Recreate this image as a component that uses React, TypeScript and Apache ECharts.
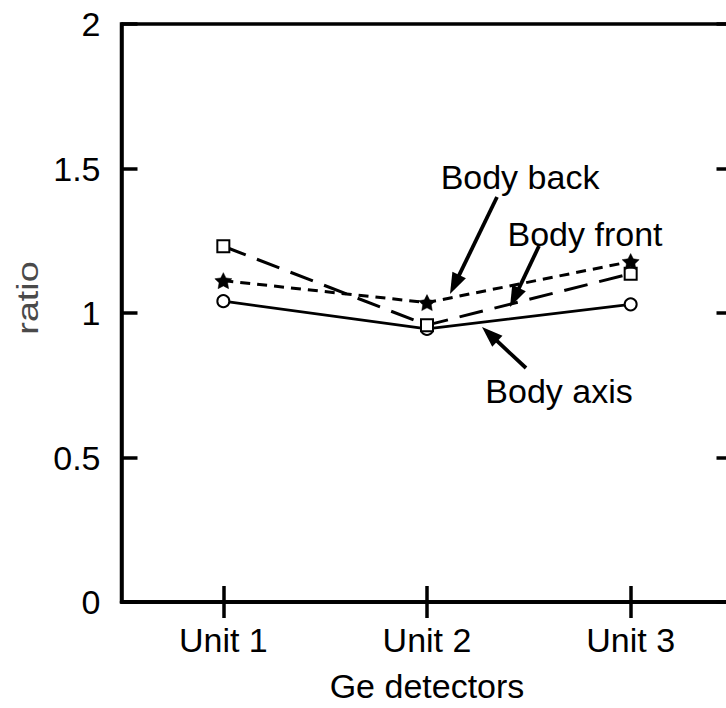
import React, { useEffect, useRef } from "react";
import * as echarts from "echarts";

const categories = ["Unit 1", "Unit 2", "Unit 3"];
const bodyAxis = [1.041, 0.945, 1.03];
const bodyFront = [1.231, 0.958, 1.136];
const bodyBack = [1.112, 1.036, 1.178];
const yTicks = { min: 0, max: 2, interval: 0.5 };

const FONT = "'Liberation Sans', Arial, Helvetica, sans-serif";
const STAR =
  "path://M0,-10 L2.94,-4.05 L9.51,-3.09 L4.76,1.55 L5.88,8.09 L0,5 L-5.88,8.09 L-4.76,1.55 L-9.51,-3.09 L-2.94,-4.05 Z";

function arrow(x1: number, y1: number, x2: number, y2: number) {
  const dx = x2 - x1;
  const dy = y2 - y1;
  const len = Math.sqrt(dx * dx + dy * dy);
  const ux = dx / len;
  const uy = dy / len;
  const nx = -uy;
  const ny = ux;
  const L = 21;
  const W = 7.5;
  const bx = x2 - ux * L;
  const by = y2 - uy * L;
  return [
    {
      type: "line",
      shape: { x1, y1, x2: bx + ux * 2, y2: by + uy * 2 },
      style: { stroke: "#000", lineWidth: 3.8 },
    },
    {
      type: "polygon",
      shape: {
        points: [
          [x2, y2],
          [bx + nx * W, by + ny * W],
          [bx - nx * W, by - ny * W],
        ],
      },
      style: { fill: "#000" },
    },
  ];
}

export default function App() {
  const ref = useRef<HTMLDivElement>(null);
  useEffect(() => {
    if (!ref.current) return;
    const chart = echarts.init(ref.current, null, { renderer: "svg" });
    const gridLeft = 121.5;
    const gridTop = 24;
    const gridW = 611;
    const gridH = 579;
    const labelStyle = { color: "#000", fontSize: 34, fontFamily: FONT };
    chart.setOption({
      animation: false,
      backgroundColor: "#fff",
      grid: {
        left: gridLeft,
        top: gridTop,
        width: gridW,
        height: gridH,
        show: true,
        borderColor: "#000",
        borderWidth: 3.5,
        backgroundColor: "transparent",
      },
      xAxis: [
        {
          type: "category",
          data: categories,
          position: "bottom",
          boundaryGap: true,
          axisLine: { show: true, lineStyle: { color: "#000", width: 3.5 } },
          axisTick: { show: true, inside: true, length: 16, alignWithLabel: true, lineStyle: { color: "#000", width: 3.5 } },
          axisLabel: { ...labelStyle, margin: 21 },
          splitLine: { show: false },
          name: "Ge detectors",
          nameLocation: "middle",
          nameGap: 67,
          nameTextStyle: { color: "#000", fontSize: 34, fontFamily: FONT },
        },
        {
          type: "category",
          data: categories,
          position: "top",
          boundaryGap: true,
          axisLine: { show: true, lineStyle: { color: "#000", width: 3.5 } },
          axisTick: { show: true, inside: true, length: 16, alignWithLabel: true, lineStyle: { color: "#000", width: 3.5 } },
          axisLabel: { show: false },
          splitLine: { show: false },
        },
      ],
      yAxis: [
        {
          type: "value",
          min: yTicks.min,
          max: yTicks.max,
          interval: yTicks.interval,
          position: "left",
          axisLine: { show: true, lineStyle: { color: "#000", width: 3.5 } },
          axisTick: { show: true, inside: true, length: 16, lineStyle: { color: "#000", width: 3.5 } },
          axisLabel: { ...labelStyle, margin: 21 },
          splitLine: { show: false },
        },
        {
          type: "value",
          min: yTicks.min,
          max: yTicks.max,
          interval: yTicks.interval,
          position: "right",
          axisLine: { show: true, lineStyle: { color: "#000", width: 3.5 } },
          axisTick: { show: true, inside: true, length: 16, lineStyle: { color: "#000", width: 3.5 } },
          axisLabel: { show: false },
          splitLine: { show: false },
        },
      ],
      series: [
        {
          name: "Body axis",
          type: "line",
          data: bodyAxis,
          symbol: "circle",
          symbolSize: 12,
          showAllSymbol: true,
          lineStyle: { color: "#000", width: 2.8, type: "solid" },
          itemStyle: { color: "#fff", borderColor: "#000", borderWidth: 2 },
          z: 2,
        },
        {
          name: "Body front",
          type: "line",
          data: bodyFront,
          symbol: "rect",
          symbolSize: 12,
          lineStyle: { color: "#000", width: 3, type: [24, 12] },
          itemStyle: { color: "#fff", borderColor: "#000", borderWidth: 2 },
          z: 3,
        },
        {
          name: "Body back",
          type: "line",
          data: bodyBack,
          symbol: STAR,
          symbolSize: [17, 16],
          lineStyle: { color: "#000", width: 3, type: [10, 7] },
          itemStyle: { color: "#000", borderColor: "#000", borderWidth: 0.5 },
          z: 4,
        },
      ],
      graphic: [
        {
          type: "text",
          x: 28,
          y: 298,
          rotation: Math.PI / 2,
          scaleX: 1.3,
          style: { text: "ratio", fontSize: 29, fontFamily: FONT, fill: "#4a4a4a", align: "center", verticalAlign: "middle" },
        },
        {
          type: "text",
          x: 520,
          y: 177,
          style: { text: "Body back", fontSize: 34, fontFamily: FONT, fill: "#000", align: "center", verticalAlign: "middle" },
        },
        {
          type: "text",
          x: 585,
          y: 234,
          style: { text: "Body front", fontSize: 34, fontFamily: FONT, fill: "#000", align: "center", verticalAlign: "middle" },
        },
        {
          type: "text",
          x: 559,
          y: 391,
          style: { text: "Body axis", fontSize: 34, fontFamily: FONT, fill: "#000", align: "center", verticalAlign: "middle" },
        },
        ...arrow(497, 197, 450, 294),
        ...arrow(539, 246, 510, 307),
        ...arrow(526, 368, 482, 327),
      ],
    });
    return () => chart.dispose();
  }, []);
  return (
    <div style={{ position: "fixed", left: 0, top: 0, width: 726, height: 708, overflow: "hidden", background: "#fff" }}>
      <div ref={ref} style={{ width: 760, height: 708 }} />
    </div>
  );
}
